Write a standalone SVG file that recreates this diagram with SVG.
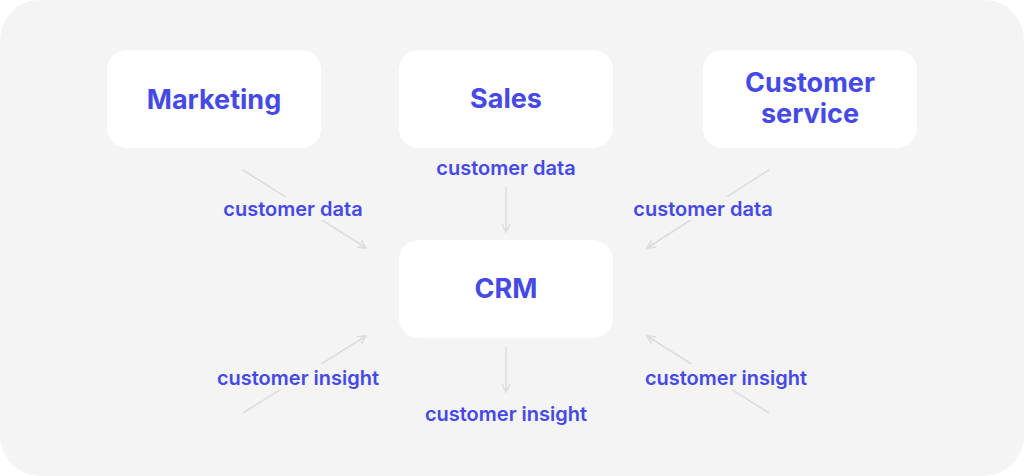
<svg xmlns="http://www.w3.org/2000/svg" width="1024" height="476" viewBox="0 0 1024 476">
<defs>
<style>
.bg{fill:#f4f4f4}
.box{fill:#ffffff}
.title{font-family:Inter,"Liberation Sans",sans-serif;font-weight:700;font-size:27px;fill:#4549e6;text-anchor:middle}
.lbl{font-family:Inter,"Liberation Sans",sans-serif;font-weight:600;font-size:20px;fill:#4549e6;text-anchor:middle}
.edge{stroke:#dcdcdc;stroke-width:1.5;fill:none}
.gap{fill:#f4f4f4}
</style>
<marker id="arr" viewBox="0 0 10 10" refX="9" refY="5" markerWidth="10" markerHeight="10" markerUnits="userSpaceOnUse" orient="auto">
<path d="M1,1 L9,5 L1,9" fill="none" stroke="#dcdcdc" stroke-width="1.5"/>
</marker>
</defs>
<rect width="1024" height="476" fill="#ffffff"/>
<rect class="bg" x="0" y="0" width="1024" height="476" rx="40" ry="40"/>
<g id="connectors">
<line class="edge" x1="243" y1="170" x2="366" y2="248" marker-end="url(#arr)"/>
<line class="edge" x1="506" y1="187" x2="506" y2="232" marker-end="url(#arr)"/>
<line class="edge" x1="769" y1="170" x2="647" y2="248" marker-end="url(#arr)"/>
<line class="edge" x1="243" y1="413" x2="366" y2="336" marker-end="url(#arr)"/>
<line class="edge" x1="506" y1="347" x2="506" y2="392" marker-end="url(#arr)"/>
<line class="edge" x1="769" y1="413" x2="647" y2="336" marker-end="url(#arr)"/>
<rect class="gap" x="219" y="197" width="148" height="23"/>
<rect class="gap" x="629" y="197" width="148" height="23"/>
<rect class="gap" x="213" y="364" width="171" height="26"/>
<rect class="gap" x="640" y="364" width="171" height="26"/>
<text class="lbl" x="293" y="216">customer data</text>
<text class="lbl" x="506" y="175">customer data</text>
<text class="lbl" x="703" y="216">customer data</text>
<text class="lbl" x="298" y="385">customer insight</text>
<text class="lbl" x="506" y="421">customer insight</text>
<text class="lbl" x="726" y="385">customer insight</text>
</g>
<g id="marketing">
<rect class="box" x="107" y="50" width="214" height="98" rx="20"/>
<text class="title" x="214" y="109">Marketing</text>
</g>
<g id="sales">
<rect class="box" x="399" y="50" width="214" height="98" rx="20"/>
<text class="title" x="506" y="108">Sales</text>
</g>
<g id="customer-service">
<rect class="box" x="703" y="50" width="214" height="98" rx="20"/>
<text class="title" x="810" y="92">Customer</text>
<text class="title" x="810" y="123">service</text>
</g>
<g id="crm">
<rect class="box" x="399" y="240" width="214" height="98" rx="20"/>
<text class="title" x="506" y="298">CRM</text>
</g>
</svg>
